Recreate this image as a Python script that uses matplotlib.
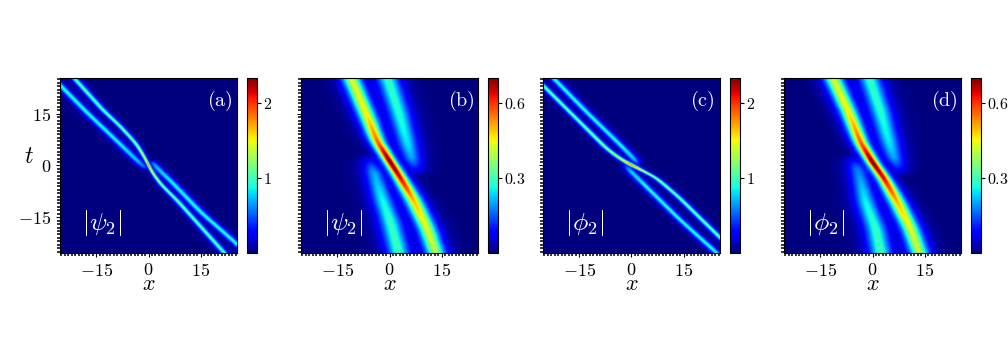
import numpy as np
import matplotlib
matplotlib.use("Agg")
import matplotlib.pyplot as plt

plt.rcParams["mathtext.fontset"] = "cm"
plt.rcParams["font.family"] = ["cmr10", "DejaVu Serif"]
plt.rcParams["axes.formatter.use_mathtext"] = True

W, H = 1008, 360
LIM = 25.4
TICKS = [-15, 0, 15]
TICK_LABELS = [r"$-15$", r"$0$", r"$15$"]

# ridge tracks: t, centre x, peak height, sech width in x
a_upper_t = [25.5, 15.7, 11.3, 6, 2, 0, -2, -5.5, -10.3, -25.5]
a_upper_x = [-21.7, -12.9, -8.2, -3.4, -1.0, 0, 1.0, 3.5, 8.3, 21.9]
a_upper_a = [1.05, 1.08, 1.12, 1.22, 1.45, 1.9, 1.45, 1.22, 1.12, 1.05]
a_upper_w = [0.62, 0.6, 0.55, 0.46, 0.34, 0.26, 0.34, 0.46, 0.55, 0.62]
a_left_t = [25.5, 22.9, 15.2, 6, 1.5, -0.6, -1.6]
a_left_x = [-27.8, -25.2, -17.7, -8.1, -3.5, -1.2, -0.4]
a_left_a = [0.92, 0.92, 0.92, 0.88, 0.78, 0.55, 0]
a_left_w = [0.75, 0.75, 0.75, 0.75, 0.78, 0.8, 0.6]
a_right_t = [1.6, 0.7, -1, -4.5, -13.6, -22.8, -25.5]
a_right_x = [0.6, 1.3, 2.6, 6.3, 15, 25.4, 28]
a_right_a = [0, 0.55, 0.78, 0.88, 0.92, 0.92, 0.92]
a_right_w = [0.6, 0.8, 0.8, 0.75, 0.75, 0.75, 0.75]

c_long_t = [25.5, 22.3, 12.7, 4.6, 1.5, 0, -1.5, -3.5, -9.3, -20.8, -25.5]
c_long_x = [-28, -24.7, -15.1, -7.0, -2.8, 0, 2.8, 6.9, 13.6, 25.3, 30]
c_long_a = [1.1, 1.1, 1.12, 1.2, 1.4, 1.9, 1.4, 1.2, 1.12, 1.1, 1.1]
c_long_w = [0.6, 0.6, 0.58, 0.58, 0.62, 0.66, 0.62, 0.58, 0.58, 0.6, 0.6]
c_up_t = [25.5, 15.6, 5.6, 2, 0.7, -0.2]
c_up_x = [-22.8, -13.2, -3.0, 0.5, 1.6, 2.2]
c_up_a = [0.92, 0.92, 0.9, 0.8, 0.55, 0]
c_up_w = [0.72, 0.72, 0.75, 0.8, 0.8, 0.6]
c_low_t = [0.2, -0.5, -2, -6, -15.5, -25.5]
c_low_x = [-2.2, -1.4, 0, 4, 13.6, 24.6]
c_low_a = [0, 0.55, 0.8, 0.9, 0.92, 0.92]
c_low_w = [0.6, 0.8, 0.8, 0.75, 0.72, 0.72]

b_main_t = [25.5, 14.2, 7, 1.2, -3, -10.3, -18.5, -25.5]
b_main_x = [-11.2, -6.4, -3.6, 0, 2.7, 7, 10.9, 13.3]
b_main_a = [0.42, 0.46, 0.56, 0.72, 0.66, 0.5, 0.43, 0.4]
b_main_w = [1.7, 1.6, 1.3, 1.1, 1.2, 1.55, 1.7, 1.75]
b_up_t = [25.5, 15.2, 6.5, 2, -1, -3.5]
b_up_x = [-0.7, 2.7, 5.1, 6.4, 7.5, 8.4]
b_up_a = [0.29, 0.28, 0.25, 0.2, 0.1, 0]
b_up_w = [2.0, 2.0, 1.9, 1.8, 1.8, 1.8]
b_low_t = [3.5, 1, -2, -9.8, -16.5, -25.5]
b_low_x = [-6.6, -5.6, -4.5, -2.1, 0.3, 2.7]
b_low_a = [0, 0.1, 0.2, 0.26, 0.29, 0.3]
b_low_w = [1.8, 1.8, 1.8, 1.9, 2.0, 2.0]

d_main_t = [25.5, 15.2, 6.5, 0.8, -4, -10.8, -18.5, -25.5]
d_main_x = [-11.5, -6.8, -3.4, 0, 3.4, 7.2, 11, 13.5]
d_main_a = [0.42, 0.46, 0.57, 0.72, 0.64, 0.5, 0.43, 0.4]
d_main_w = [1.7, 1.55, 1.3, 1.1, 1.2, 1.55, 1.7, 1.75]
d_up_t = [25.5, 15.2, 6.5, 2, -1, -3.5]
d_up_x = [-1, 2.4, 4.8, 6.2, 7.4, 8.3]
d_up_a = [0.29, 0.28, 0.25, 0.2, 0.1, 0]
d_up_w = [2.0, 2.0, 1.9, 1.8, 1.8, 1.8]
d_low_t = [3.5, 1, -1, -10.8, -18.5, -25.5]
d_low_x = [-6.2, -5.2, -4.3, -1.9, 1, 2.4]
d_low_a = [0, 0.1, 0.17, 0.26, 0.29, 0.3]
d_low_w = [1.8, 1.8, 1.8, 1.9, 2.0, 2.0]

PANELS = [
    dict(px=60, tag="(a)", name=r"$|\psi_2|$", vmax=2.33, cticks=[1, 2], clabels=[r"$1$", r"$2$"],
         tracks=[(a_upper_t, a_upper_x, a_upper_a, a_upper_w), (a_left_t, a_left_x, a_left_a, a_left_w),
                 (a_right_t, a_right_x, a_right_a, a_right_w)]),
    dict(px=301, tag="(b)", name=r"$|\psi_2|$", vmax=0.7, cticks=[0.3, 0.6], clabels=[r"$0.3$", r"$0.6$"],
         tracks=[(b_main_t, b_main_x, b_main_a, b_main_w), (b_up_t, b_up_x, b_up_a, b_up_w),
                 (b_low_t, b_low_x, b_low_a, b_low_w)]),
    dict(px=543, tag="(c)", name=r"$|\phi_2|$", vmax=2.33, cticks=[1, 2], clabels=[r"$1$", r"$2$"],
         tracks=[(c_long_t, c_long_x, c_long_a, c_long_w), (c_up_t, c_up_x, c_up_a, c_up_w),
                 (c_low_t, c_low_x, c_low_a, c_low_w)]),
    dict(px=784, tag="(d)", name=r"$|\phi_2|$", vmax=0.7, cticks=[0.3, 0.6], clabels=[r"$0.3$", r"$0.6$"],
         tracks=[(d_main_t, d_main_x, d_main_a, d_main_w), (d_up_t, d_up_x, d_up_a, d_up_w),
                 (d_low_t, d_low_x, d_low_a, d_low_w)]),
]


def soften(v, ts, sig):
    # gaussian smoothing along t so the knots don't show as kinks, odd padding keeps the slope at the edges
    dt = ts[1] - ts[0]
    n = int(4 * sig / dt)
    kern = np.exp(-0.5 * (np.arange(-n, n + 1) * dt / sig) ** 2)
    kern /= kern.sum()
    pad = np.concatenate([2 * v[0] - v[n:0:-1], v, 2 * v[-1] - v[-2:-n - 2:-1]])
    return np.convolve(pad, kern, mode="valid")


def field(tracks, xs, ts):
    total = np.zeros((len(ts), len(xs)))
    for tk, xk, ak, wk in tracks:
        # knots run from high t to low t, np.interp wants them rising
        tk, xk, ak, wk = [np.asarray(v, float)[::-1] for v in (tk, xk, ak, wk)]
        on = (ts >= tk[0]) & (ts <= tk[-1])
        x0 = soften(np.interp(ts, tk, xk), ts, 1.0)[:, None]
        amp = soften(np.where(on, np.interp(ts, tk, ak), 0), ts, 0.4)[:, None]
        wid = soften(np.interp(ts, tk, wk), ts, 0.5)[:, None]
        total += (amp / np.cosh((xs[None, :] - x0) / wid)) ** 2
    return np.sqrt(total)


xs = np.linspace(-LIM, LIM, 500)
ts = np.linspace(-LIM, LIM, 500)
fig = plt.figure(figsize=(W / 100, H / 100), dpi=100)


def box(x0, x1, y0=78, y1=253):
    return [x0 / W, 1 - y1 / H, (x1 - x0) / W, (y1 - y0) / H]


for i, p in enumerate(PANELS):
    ax = fig.add_axes(box(p["px"], p["px"] + 177))
    im = ax.imshow(field(p["tracks"], xs, ts), origin="lower", extent=[-LIM, LIM, -LIM, LIM], cmap="jet",
                   vmin=0, vmax=p["vmax"], aspect="auto", interpolation="bilinear")
    ax.set_xlim(-LIM, LIM); ax.set_ylim(-LIM, LIM)
    ax.set_xticks(TICKS); ax.set_xticklabels(TICK_LABELS, fontsize=13)
    ax.set_yticks(TICKS)
    ax.set_yticklabels(TICK_LABELS if i == 0 else [], fontsize=13)
    ax.set_xticks(np.arange(-25, 26), minor=True); ax.set_yticks(np.arange(-25, 26), minor=True)
    ax.tick_params(which="major", length=3.2, width=0.8, direction="out", pad=3)
    ax.tick_params(which="minor", length=2, width=1.1, direction="out")
    ax.set_xlabel(r"$x$", fontsize=16, labelpad=-3)
    if i == 0:
        ax.set_ylabel(r"$t$", fontsize=17, rotation=0)
        ax.yaxis.set_label_coords(-0.175, 0.485)
    ax.text(0.83, 0.84, r"$\mathrm{%s}$" % p["tag"], transform=ax.transAxes, color="white", fontsize=14.5, ha="left")
    ax.text(0.125, 0.13, p["name"], transform=ax.transAxes, color="white", fontsize=18.5, ha="left")

    cax = fig.add_axes(box(p["px"] + 187, p["px"] + 197))
    cb = fig.colorbar(im, cax=cax)
    cb.set_ticks(p["cticks"]); cb.set_ticklabels(p["clabels"], fontsize=11.5)
    cb.ax.tick_params(length=3, width=0.8, direction="out", pad=1.5)
    cb.outline.set_linewidth(0.8)

fig.savefig("out.png", dpi=100)
